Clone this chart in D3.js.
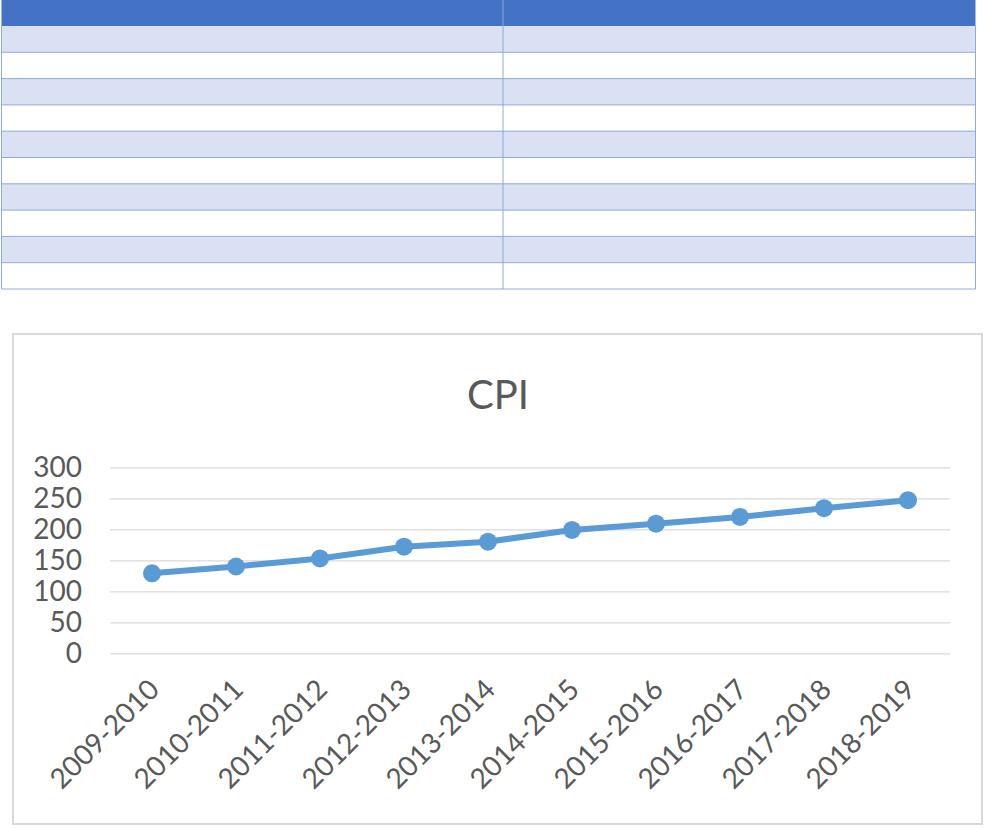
<!DOCTYPE html>
<html>
<head>
<meta charset="utf-8">
<script src="https://cdn.jsdelivr.net/npm/d3@7"></script>
<style>
  body { margin: 0; background: #fff; }
  svg { display: block; font-family: Lato, "Open Sans", sans-serif; }
</style>
</head>
<body>
<svg id="page" width="987" height="828"></svg>
<script>
// empty table above the chart (header + 10 rows, 2 columns)
const tableRows = [0, 1, 2, 3, 4, 5, 6, 7, 8, 9]

// chart data
const years = ["2009-2010", "2010-2011", "2011-2012", "2012-2013", "2013-2014",
               "2014-2015", "2015-2016", "2016-2017", "2017-2018", "2018-2019"]
const cpi = [129, 140, 153, 172, 180, 199, 209, 220, 234, 247]
const yTicks = [0, 50, 100, 150, 200, 250, 300]

const svg = d3.select("svg#page")

// ---- table ----
const tbl = { left: 1.5, right: 975.5, top: 0, head: 26, rowH: 26.3, split: 503 }

svg.append("rect")
    .attr("x", tbl.left).attr("y", tbl.top)
    .attr("width", tbl.right - tbl.left).attr("height", tbl.head)
    .attr("fill", "#4472c4")

const rowY = i => tbl.head + i * tbl.rowH

svg.append("g")
  .selectAll("rect")
  .data(tableRows)
  .join("rect")
    .attr("x", tbl.left)
    .attr("y", rowY)
    .attr("width", tbl.right - tbl.left)
    .attr("height", tbl.rowH)
    .attr("fill", d => d % 2 === 0 ? "#d9e1f2" : "#ffffff")

svg.append("g")
    .attr("stroke", "#8eaadb")
    .attr("stroke-width", 1)
  .selectAll("line")
  .data(tableRows)
  .join("line")
    .attr("x1", tbl.left).attr("x2", tbl.right)
    .attr("y1", d => rowY(d + 1)).attr("y2", d => rowY(d + 1))

const tblBottom = rowY(tableRows.length)
svg.append("g")
    .attr("stroke", "#8eaadb")
  .selectAll("line")
  .data([tbl.left, tbl.split, tbl.right])
  .join("line")
    .attr("x1", d => d).attr("x2", d => d)
    .attr("y1", (d, i) => i === 1 ? 0 : tbl.head)
    .attr("y2", tblBottom)

// ---- chart ----
svg.append("rect")
    .attr("x", 13).attr("y", 334)
    .attr("width", 969).attr("height", 490)
    .attr("fill", "#fff")
    .attr("stroke", "#d9d9d9")
    .attr("stroke-width", 2)

svg.append("text")
    .attr("x", 498).attr("y", 409)
    .attr("text-anchor", "middle")
    .attr("font-size", 40)
    .attr("fill", "#595959")
    .text("CPI")

const plot = { left: 110, right: 950, top: 467.3, bottom: 653.3 }

const x = d3.scaleBand()
    .domain(years)
    .range([plot.left, plot.right])

const y = d3.scaleLinear()
    .domain([0, 300])
    .range([plot.bottom, plot.top])

// gridlines + y labels
const yAxis = svg.append("g")
    .attr("transform", `translate(${plot.left},0)`)
    .call(d3.axisLeft(y).tickValues(yTicks).tickSize(-(plot.right - plot.left)).tickPadding(28))
yAxis.select(".domain").remove()
yAxis.selectAll(".tick line").attr("stroke", "#d9d9d9").attr("stroke-width", 1.3)
yAxis.selectAll(".tick text")
    .attr("fill", "#595959")
    .attr("font-size", 28)
    .attr("font-family", "Lato, sans-serif")

// x labels
const xAxis = svg.append("g")
    .attr("transform", `translate(0,${plot.bottom})`)
    .call(d3.axisBottom(x).tickSize(0).tickPadding(0))
xAxis.select(".domain").remove()
xAxis.selectAll(".tick text")
    .attr("fill", "#595959")
    .attr("font-size", 28)
    .attr("font-family", "Lato, sans-serif")
    .attr("text-anchor", "end")
    .attr("dy", 0)
    .attr("transform", "translate(9,38) rotate(-45)")

// line + markers
const cx = d => x(d) + x.bandwidth() / 2
const line = d3.line()
    .x((d, i) => cx(years[i]))
    .y(d => y(d))

svg.append("path")
    .datum(cpi)
    .attr("d", line)
    .attr("fill", "none")
    .attr("stroke", "#5b9bd5")
    .attr("stroke-width", 6)
    .attr("stroke-linejoin", "round")
    .attr("stroke-linecap", "round")

svg.append("g")
  .selectAll("circle")
  .data(cpi)
  .join("circle")
    .attr("cx", (d, i) => cx(years[i]))
    .attr("cy", d => y(d))
    .attr("r", 9)
    .attr("fill", "#5b9bd5")
</script>
</body>
</html>
